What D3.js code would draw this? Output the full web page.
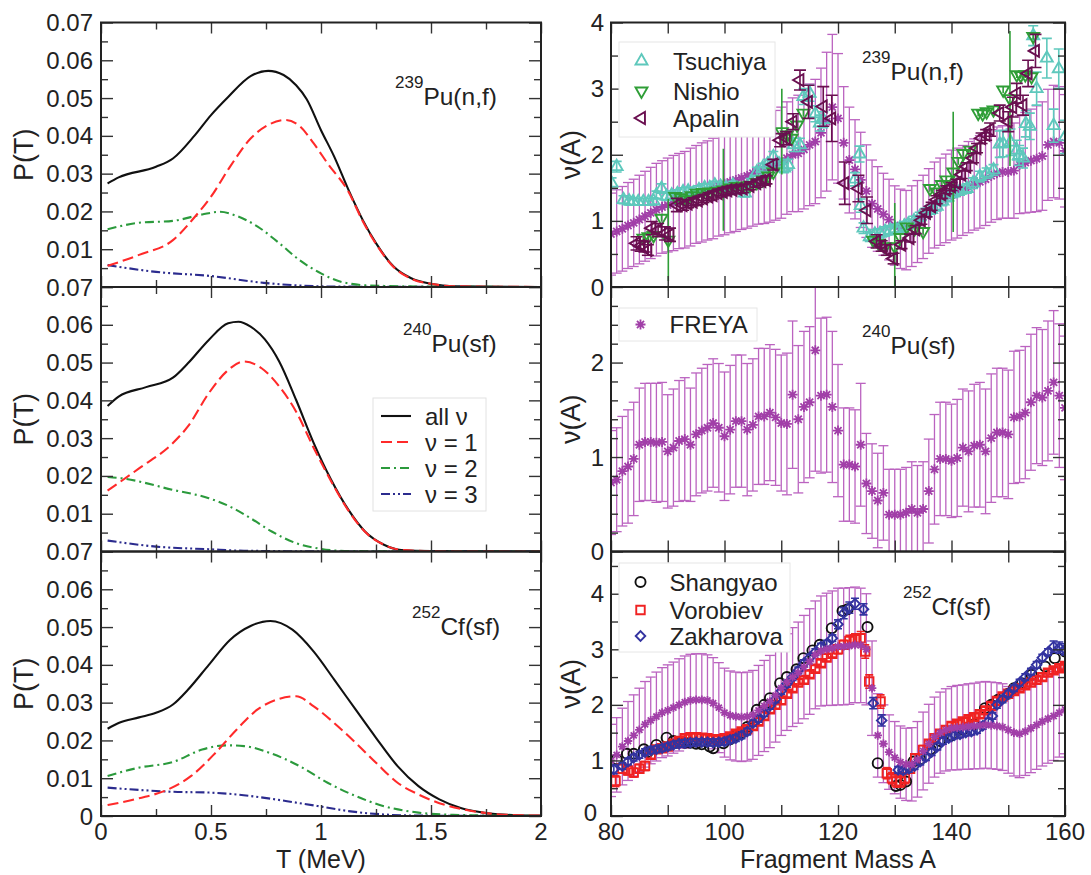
<!DOCTYPE html>
<html>
<head>
<meta charset="utf-8">
<style>
  body { margin: 0; background: #fff; }
  svg text { font-family: "Liberation Sans", Arial, Helvetica, sans-serif; fill: #222; }
</style>
</head>
<body>
<svg id="chart" width="1091" height="875"></svg>

<script src="https://cdn.jsdelivr.net/npm/d3@7"></script>
<script>
// ---- left column: P(T) curves, [T (MeV), P]
const pu239All = [[0.03,0.0274],[0.08,0.029],[0.25,0.0318],[0.327,0.034],[0.427,0.0402],[0.5,0.0455],[0.578,0.0503],[0.68,0.0558],[0.76,0.0572],[0.83,0.0561],[0.887,0.0534],[0.935,0.0497],[1.0,0.0415],[1.06,0.0345],[1.125,0.0257],[1.19,0.0177],[1.25,0.0116],[1.33,0.0054],[1.41,0.0023],[1.505,0.0008],[1.6,0.0002],[2.0,0]];
const pu239Nu1 = [[0.03,0.0056],[0.173,0.0085],[0.327,0.0124],[0.427,0.0186],[0.5,0.0239],[0.586,0.0318],[0.68,0.0393],[0.76,0.0429],[0.84,0.0442],[0.903,0.0426],[0.967,0.038],[1.03,0.0327],[1.125,0.0252],[1.19,0.0174],[1.25,0.0114],[1.33,0.0053],[1.41,0.0022],[1.505,0.0008],[1.6,0.0002],[2.0,0]];
const pu239Nu2 = [[0.03,0.0153],[0.173,0.017],[0.327,0.0175],[0.46,0.0192],[0.54,0.0199],[0.617,0.0188],[0.712,0.016],[0.81,0.0116],[0.903,0.0071],[1.0,0.0036],[1.09,0.0014],[1.22,0.0004],[1.5,0.0001],[2.0,0]];
const pu239Nu3 = [[0.03,0.0058],[0.25,0.004],[0.5,0.0029],[0.74,0.0011],[0.9,0.0004],[1.1,0.0001],[2.0,0]];

const pu240All = [[0.03,0.0385],[0.08,0.041],[0.205,0.0435],[0.327,0.046],[0.395,0.0498],[0.49,0.056],[0.578,0.0604],[0.625,0.0608],[0.68,0.0595],[0.744,0.0562],[0.81,0.0503],[0.887,0.0401],[0.967,0.0287],[1.046,0.019],[1.125,0.011],[1.2,0.0053],[1.286,0.0018],[1.365,0.0004],[1.5,0.0001],[2.0,0]];
const pu240Nu1 = [[0.03,0.0161],[0.173,0.022],[0.327,0.0287],[0.395,0.0331],[0.49,0.0419],[0.57,0.0476],[0.65,0.0503],[0.73,0.0485],[0.81,0.0437],[0.887,0.037],[0.967,0.0274],[1.046,0.0186],[1.125,0.0108],[1.2,0.0052],[1.286,0.0018],[1.365,0.0004],[1.5,0.0001],[2.0,0]];
const pu240Nu2 = [[0.03,0.0197],[0.09,0.0194],[0.327,0.0163],[0.49,0.0141],[0.586,0.0119],[0.68,0.0088],[0.776,0.0053],[0.887,0.0022],[1.0,0.0007],[1.125,0.0001],[2.0,0]];
const pu240Nu3 = [[0.03,0.0029],[0.25,0.0013],[0.49,0.0006],[0.65,0.0002],[1.2,0],[2.0,0]];

const cf252All = [[0.03,0.0231],[0.08,0.0246],[0.173,0.0261],[0.25,0.0273],[0.327,0.0295],[0.395,0.0334],[0.49,0.04],[0.586,0.0466],[0.68,0.0503],[0.77,0.0516],[0.87,0.0493],[0.967,0.0435],[1.06,0.0361],[1.157,0.0282],[1.25,0.0207],[1.348,0.0132],[1.443,0.0079],[1.538,0.0044],[1.635,0.0021],[1.76,0.0007],[1.89,0.0002],[2.0,0.0001]];
const cf252Nu1 = [[0.03,0.0029],[0.173,0.0047],[0.3,0.0069],[0.41,0.0106],[0.52,0.0167],[0.617,0.0229],[0.712,0.0282],[0.81,0.031],[0.887,0.0317],[0.967,0.029],[1.06,0.0246],[1.157,0.0194],[1.25,0.0141],[1.348,0.0088],[1.443,0.0057],[1.538,0.0034],[1.635,0.0019],[1.76,0.0007],[1.89,0.0002],[2.0,0.0001]];
const cf252Nu2 = [[0.03,0.0106],[0.173,0.0128],[0.327,0.0143],[0.46,0.0176],[0.57,0.0187],[0.65,0.0185],[0.776,0.0165],[0.903,0.0132],[1.03,0.0088],[1.157,0.0053],[1.286,0.0026],[1.443,0.0009],[1.6,0.0003],[2.0,0]];
const cf252Nu3 = [[0.03,0.0075],[0.173,0.0069],[0.33,0.0064],[0.49,0.0062],[0.617,0.0057],[0.744,0.0048],[0.87,0.0037],[1.0,0.0025],[1.125,0.0013],[1.286,0.0004],[1.45,0.0001],[2.0,0]];

const curveNames = ['all \u03bd', '\u03bd = 1', '\u03bd = 2', '\u03bd = 3'];
const pLabelsTop = ['0.07','0.01','0.02','0.03','0.04','0.05','0.06','0.07'];
const pLabelsMid = ['0.07','0.01','0.02','0.03','0.04','0.05','0.06'];
const pLabelsBot = ['0','0.01','0.02','0.03','0.04','0.05','0.06'];
const tLabels = ['0','0.5','1','1.5','2'];

// ---- right column: FREYA nu(A), one value per mass number
const massA = d3.range(80, 161);
const freyaPu239 = [0.80,0.84,0.88,0.93,0.97,1.02,1.07,1.12,1.17,1.21, 1.24,1.27,1.30,1.32,1.36,1.40,1.43,1.46,1.49,1.53,
  1.56,1.59,1.62,1.65,1.68,1.72,1.75,1.77,1.80,1.84, 1.88,1.95,2.00,2.02,2.08,2.15,2.20,2.33,2.50,2.72,
  2.55,2.18,1.92,1.78,1.62,1.45,1.26,1.18,1.10,1.02, 0.93,0.88,0.86,0.92,0.99,1.06,1.15,1.24,1.29,1.34,
  1.39,1.42,1.46,1.51,1.55,1.59,1.63,1.68,1.72,1.74, 1.74,1.76,1.85,1.88,1.91,1.94,1.98,2.15,2.20,2.18,2.06];
const freyaPu239Err = [0.62,0.63,0.64,0.65,0.66,0.67,0.68,0.69,0.70,0.70, 0.71,0.72,0.72,0.73,0.74,0.74,0.75,0.75,0.76,0.76,
  0.77,0.77,0.78,0.78,0.79,0.80,0.80,0.81,0.82,0.83, 0.84,0.85,0.86,0.88,0.90,0.92,0.94,0.98,1.05,1.10,
  0.98,0.85,0.80,0.75,0.72,0.70,0.66,0.64,0.62,0.61, 0.60,0.60,0.60,0.61,0.62,0.63,0.64,0.65,0.66,0.67,
  0.68,0.68,0.68,0.69,0.69,0.70,0.70,0.70,0.70,0.70, 0.70,0.72,0.74,0.76,0.78,0.80,0.82,0.84,0.85,0.85,0.85];

const freyaPu240 = [0.73,0.76,0.85,0.90,0.98,1.13,1.16,1.16,1.15,1.16, 1.06,1.10,1.17,1.19,1.13,1.24,1.28,1.31,1.36,1.31,
  1.22,1.29,1.38,1.38,1.29,1.34,1.43,1.43,1.47,1.42, 1.36,1.35,1.66,1.40,1.53,1.58,2.13,1.65,1.66,1.53,
  1.28,0.92,0.92,0.90,1.13,0.72,0.64,0.54,0.62,0.39, 0.39,0.39,0.41,0.45,0.41,0.45,0.64,0.87,0.98,0.98,
  0.96,0.99,1.10,1.06,1.12,1.13,1.06,1.20,1.26,1.26, 1.24,1.42,1.43,1.47,1.58,1.65,1.63,1.70,1.79,1.65,1.52];
const freyaPu240Err = [0.55,0.55,0.58,0.60,0.60,0.60,0.62,0.62,0.63,0.63, 0.60,0.62,0.64,0.65,0.60,0.65,0.66,0.67,0.68,0.68,
  0.68,0.68,0.70,0.70,0.70,0.70,0.72,0.72,0.72,0.72, 0.72,0.75,0.78,0.78,0.80,0.80,1.28,0.82,0.82,0.80,
  0.70,0.60,0.60,0.60,0.65,0.53,0.50,0.50,0.50,0.48, 0.48,0.48,0.48,0.50,0.50,0.50,0.55,0.58,0.60,0.60,
  0.60,0.62,0.62,0.64,0.65,0.66,0.66,0.68,0.68,0.68, 0.68,0.70,0.70,0.70,0.72,0.72,0.72,0.74,0.76,0.76,0.76];

const freyaCf252 = [1.00,1.10,1.25,1.35,1.45,1.55,1.65,1.72,1.79,1.86, 1.90,1.95,2.00,2.05,2.08,2.09,2.09,2.08,2.03,1.95,
  1.86,1.81,1.79,1.78,1.79,1.82,1.90,1.98,2.06,2.17, 2.30,2.41,2.50,2.58,2.68,2.78,2.90,2.97,3.00,3.02,
  3.05,3.05,3.06,3.08,3.07,3.00,2.30,1.45,1.30,1.15, 1.05,0.97,0.93,0.93,1.02,1.17,1.30,1.42,1.50,1.55,
  1.58,1.59,1.60,1.61,1.62,1.63,1.64,1.63,1.62,1.60, 1.55,1.50,1.48,1.52,1.58,1.64,1.70,1.75,1.80,1.86,1.92];
const freyaCf252Err = [0.65,0.67,0.69,0.71,0.73,0.75,0.77,0.78,0.80,0.81, 0.82,0.82,0.83,0.83,0.83,0.83,0.83,0.82,0.82,0.81,
  0.80,0.80,0.80,0.80,0.80,0.80,0.81,0.82,0.83,0.84, 0.85,0.87,0.89,0.91,0.93,0.95,0.97,0.99,1.01,1.03,
  1.05,1.05,1.05,1.04,1.03,1.00,0.85,0.75,0.70,0.67, 0.65,0.65,0.65,0.66,0.68,0.70,0.71,0.72,0.73,0.74,
  0.75,0.76,0.76,0.77,0.77,0.78,0.78,0.78,0.78,0.78, 0.78,0.78,0.79,0.79,0.80,0.80,0.80,0.80,0.80,0.80,0.80];

// ---- experimental data, [A, nu, error]
const tsuchiya = [[80.1,1.57,0.08],[81,1.82,0.08],[82.2,1.32,0.06],[83.2,1.30,0.06],[83.9,1.29,0.05],[84.8,1.29,0.05],[85.7,1.29,0.05],[86.6,1.29,0.05],[87.5,1.30,0.05],[88,1.39,0.06],[88.9,1.49,0.07],[89.8,1.37,0.06],[90.7,1.39,0.06],[91.7,1.41,0.06],[92.7,1.44,0.06],[93.6,1.45,0.06],[94.5,1.42,0.06],[95.5,1.47,0.06],[96.5,1.50,0.06],[97.4,1.50,0.06],[98.3,1.54,0.06],[99.3,1.52,0.06],[100.3,1.50,0.06],[101.5,1.54,0.06],[102.5,1.47,0.06],[103.6,1.42,0.06],[104.6,1.58,0.06],[105.7,1.74,0.07],[106.7,1.80,0.07],[107.6,1.86,0.07],[108.6,1.97,0.08],[109.6,1.86,0.07],[110.5,1.80,0.07],[111.2,1.85,0.08],[112.2,2.15,0.1],[113.3,2.15,0.1],[113.9,2.88,0.12],[115,2.93,0.12],[116,2.62,0.12],[116.8,2.48,0.12],[117.4,2.53,0.12],[123,1.63,0.1],[123.8,2.01,0.12],[124,1.23,0.1],[124.5,0.89,0.08],[125.6,0.76,0.07],[126.5,0.80,0.07],[127.4,0.81,0.07],[128.3,0.84,0.07],[129.2,0.86,0.07],[130.1,0.88,0.07],[130.9,0.89,0.07],[131.7,0.92,0.07],[132.4,0.95,0.07],[133.4,1.00,0.07],[134.4,1.06,0.07],[135.4,1.12,0.07],[136.4,1.17,0.07],[137.4,1.22,0.07],[138.4,1.30,0.07],[139.3,1.36,0.07],[140.3,1.42,0.07],[141.5,1.46,0.07],[142.7,1.49,0.07],[143.8,1.57,0.08],[145,1.67,0.08],[146.2,1.72,0.08],[147.4,1.77,0.08],[148.5,2.16,0.2],[149.1,2.17,0.2],[150.4,2.19,0.2],[151.5,2.07,0.15],[151.9,1.99,0.15],[152.6,1.95,0.15],[153.1,2.47,0.2],[153.8,2.43,0.2],[154.4,3.80,0.15],[155,3.00,0.25],[156.8,3.46,0.3],[158,2.44,0.25],[158.9,3.30,0.3],[160,2.27,0.25]];
const nishio = [[85.7,0.74,0.05],[86.6,0.76,0.05],[87.5,0.78,0.05],[88.9,1.04,0.05],[90.1,0.71,0.62],[91.3,1.37,0.05],[92.3,1.35,0.05],[93.3,1.32,0.05],[94.2,1.38,0.05],[95.1,1.42,0.05],[96.2,1.43,0.05],[97.4,1.44,0.05],[98.6,1.45,0.05],[99.8,1.47,0.62],[101,1.50,0.05],[102.1,1.52,0.05],[103.3,1.53,0.05],[104.5,1.54,0.05],[105.7,1.58,0.05],[106.8,1.62,0.05],[107.7,1.68,0.05],[108.6,1.74,0.05],[110.1,2.35,0.65],[111,2.30,0.05],[111.8,2.25,0.05],[112.8,2.45,0.05],[113.9,2.63,0.05],[126.2,0.71,0.05],[127.2,0.66,0.05],[128.3,0.61,0.05],[130,0.61,0.66],[131,0.75,0.05],[132.1,0.91,0.05],[133.5,0.88,0.05],[135,0.84,0.05],[136.2,1.49,0.05],[137.4,1.44,0.05],[138.3,1.55,0.05],[139.1,1.62,0.05],[140.3,1.74,0.91],[141.2,1.90,0.05],[142.1,2.02,0.05],[143.3,2.07,0.05],[144.7,2.63,0.05],[145.5,2.62,0.05],[146.2,2.65,0.05],[147.4,2.68,0.05],[149.1,2.98,0.05],[150.3,2.85,1.02],[151.5,3.21,0.05],[152.2,3.20,0.05],[153,3.21,0.05],[154.1,3.18,0.05],[154.4,3.79,0.05]];
const apalin = [[84.5,0.66,0.1],[85.2,0.62,0.08],[85.9,0.61,0.08],[86.5,0.56,0.08],[87.2,0.89,0.1],[88.3,0.86,0.1],[89.5,0.81,0.1],[90.4,0.79,0.1],[91.6,1.24,0.1],[92.7,1.24,0.08],[93.6,1.26,0.06],[94.5,1.29,0.06],[95.4,1.31,0.06],[96.3,1.34,0.06],[97.2,1.37,0.06],[98,1.39,0.06],[98.9,1.42,0.06],[99.8,1.44,0.06],[100.6,1.46,0.06],[101.5,1.47,0.06],[102.4,1.48,0.06],[103.3,1.49,0.06],[104.5,1.53,0.06],[105.7,1.57,0.06],[106.6,1.60,0.06],[107.4,1.62,0.06],[108.6,1.85,0.08],[109.8,2.22,0.1],[110.9,2.25,0.1],[112.1,2.50,0.12],[113.3,3.13,0.15],[114.8,2.80,0.25],[117.4,2.73,0.3],[118.9,2.55,0.35],[121.2,1.57,0.32],[123.6,1.49,0.2],[125.1,1.16,0.2],[126.8,0.69,0.1],[127.7,0.62,0.08],[128.6,0.56,0.08],[129.8,0.43,0.08],[131.2,0.64,0.06],[132.7,0.74,0.06],[133.7,0.87,0.06],[134.7,1.01,0.06],[135.6,1.12,0.06],[136.5,1.22,0.06],[137.4,1.32,0.06],[138.3,1.40,0.06],[139.1,1.47,0.06],[140,1.52,0.06],[140.9,1.57,0.06],[141.8,1.70,0.06],[142.7,1.82,0.06],[143.8,1.95,0.07],[144.5,2.10,0.07],[145.3,2.25,0.08],[146.1,2.30,0.08],[146.8,2.38,0.1],[148.5,2.63,0.12],[150,2.50,0.15],[150.8,2.72,0.15],[151.5,2.93,0.15],[152.6,2.75,0.15],[153.5,3.23,0.2],[154.8,3.57,0.25]];

const shangyao = [[81,1.02,0],[82.8,1.12,0],[84,1.12,0],[85.8,1.20,0],[86.5,1.15,0],[88,1.28,0],[89.8,1.41,0],[91,1.35,0],[92,1.33,0],[93,1.32,0],[94,1.32,0],[95,1.30,0],[96,1.29,0],[97.4,1.25,0],[98,1.22,0],[99.8,1.31,0],[101,1.38,0],[102,1.45,0],[103,1.50,0],[104,1.60,0],[105.7,1.91,0],[107,2.00,0],[108,2.12,0],[109.8,2.39,0],[111,2.50,0],[112.7,2.64,0],[113.9,2.84,0],[115.5,2.98,0],[116.8,3.08,0],[118.9,3.38,0],[120.8,3.69,0],[121.7,3.72,0],[125.2,3.40,0],[127,0.95,0],[130.2,0.54,0],[131,0.56,0],[132,0.62,0],[133.3,0.98,0],[134.5,1.02,0],[136.3,1.20,0],[138,1.35,0],[140,1.45,0],[142,1.55,0],[144,1.65,0],[145.9,1.94,0],[147,2.00,0],[148.2,2.09,0],[150,2.20,0],[151,2.30,0],[152.4,2.39,0],[154.1,2.54,0],[156.5,2.69,0],[158.2,2.84,0],[160,2.96,0]];
const vorobiev = [[80.8,0.63,0.1],[82,0.85,0.08],[83,0.82,0.08],[84,0.78,0.08],[85,0.85,0.08],[86,0.90,0.08],[87,1.10,0.06],[88,1.20,0.06],[89,1.22,0.06],[90,1.25,0.06],[91,1.30,0.06],[92,1.35,0.06],[93,1.40,0.06],[94,1.42,0.06],[95,1.42,0.06],[96,1.41,0.06],[97,1.40,0.06],[98,1.38,0.06],[99,1.38,0.06],[100,1.40,0.06],[101,1.43,0.06],[102,1.48,0.06],[103,1.52,0.06],[104,1.56,0.06],[105,1.62,0.06],[106,1.70,0.06],[107,1.80,0.06],[108,1.92,0.06],[109,2.00,0.06],[110,2.08,0.06],[111,2.20,0.06],[112,2.30,0.06],[113,2.40,0.06],[114,2.45,0.06],[115,2.55,0.06],[116,2.65,0.06],[117,2.75,0.06],[118,2.85,0.06],[119,2.92,0.06],[120,3.00,0.08],[121,3.08,0.08],[122,3.15,0.1],[123,3.18,0.1],[124,3.20,0.12],[124.8,2.96,0.12],[125.5,2.42,0.12],[127.5,2.06,0.12],[128.6,0.77,0.1],[129.5,0.68,0.1],[130.3,0.62,0.1],[131,0.62,0.1],[131.8,0.68,0.1],[132.7,0.85,0.08],[133.6,1.04,0.08],[135,1.19,0.08],[136,1.30,0.06],[137,1.40,0.06],[138,1.48,0.06],[139,1.55,0.06],[140,1.62,0.06],[141,1.66,0.06],[142,1.70,0.06],[143,1.74,0.06],[144,1.78,0.06],[145,1.83,0.06],[146,1.90,0.06],[147,1.98,0.06],[148,2.07,0.06],[149,2.15,0.06],[150,2.20,0.06],[151,2.25,0.06],[152,2.30,0.06],[153,2.35,0.06],[154,2.40,0.06],[155,2.45,0.06],[156,2.50,0.06],[157,2.58,0.06],[158,2.62,0.06],[159,2.66,0.06],[160,2.70,0.06]];
const zakharova = [[80.5,0.84,0.08],[82,0.90,0.06],[83,0.98,0.06],[84,1.05,0.06],[85,1.10,0.06],[86,1.15,0.06],[87,1.18,0.06],[88,1.20,0.06],[89,1.22,0.06],[90,1.25,0.06],[91,1.28,0.06],[92,1.30,0.06],[93,1.31,0.06],[94,1.32,0.06],[95,1.33,0.06],[96,1.33,0.06],[97,1.33,0.06],[98,1.32,0.06],[99,1.33,0.06],[100,1.34,0.06],[101,1.37,0.06],[102,1.40,0.06],[103,1.45,0.06],[104,1.52,0.06],[105,1.67,0.06],[106,1.75,0.06],[107,1.85,0.06],[108,1.98,0.06],[109,2.10,0.06],[110,2.25,0.06],[111,2.38,0.06],[112,2.50,0.06],[113,2.62,0.06],[114,2.75,0.06],[115,2.85,0.06],[116,2.95,0.06],[117,3.05,0.06],[118,3.10,0.06],[119,3.20,0.06],[120,3.45,0.08],[121,3.65,0.1],[122,3.75,0.1],[123,3.82,0.1],[124.5,3.72,0.1],[126.2,2.03,0.1],[127.7,1.72,0.1],[130.6,0.83,0.06],[131.5,0.82,0.06],[132.5,0.85,0.06],[133.5,0.90,0.06],[134.5,0.98,0.06],[135.5,1.06,0.06],[136.5,1.15,0.06],[137.5,1.25,0.06],[138.5,1.35,0.06],[139.5,1.40,0.06],[140.5,1.45,0.06],[141.5,1.47,0.06],[142.5,1.50,0.06],[143.5,1.52,0.06],[144.5,1.55,0.06],[145.5,1.62,0.06],[146.5,1.70,0.06],[147.2,1.80,0.06],[148,2.00,0.06],[149,2.10,0.06],[150,2.20,0.06],[151,2.30,0.06],[152,2.40,0.06],[153,2.50,0.06],[154,2.60,0.06],[155,2.72,0.06],[156,2.85,0.06],[157,2.95,0.06],[158,3.05,0.1],[159,3.03,0.1],[160,3.00,0.1]];
const aLabels = ['80','100','120','140','160'];

// ---- layout
const svg = d3.select('#chart');
const rowTop = [22.5, 287, 551.5], rowH = 264.5;
const xT = d3.scaleLinear().domain([0, 2]).range([101, 541]);
const xA = d3.scaleLinear().domain([80, 160]).range([611, 1065]);
const defs = svg.append('defs');

function ticks(g, xs, ys, xMaj, xMin, yMaj, yMin) {
  const [x0, x1] = xs.range(), [yb, yt] = ys.range();
  const put = (axis, tx, ty) => g.append('g').attr('transform', `translate(${tx},${ty})`)
    .call(axis.tickSizeOuter(0).tickFormat(''))
    .call(a => a.select('.domain').remove())
    .call(a => a.selectAll('line').attr('stroke', '#333').attr('stroke-width', 1.4));
  put(d3.axisBottom(xs).tickValues(xMin).tickSizeInner(-7), 0, yb);
  put(d3.axisTop(xs).tickValues(xMin).tickSizeInner(-7), 0, yt);
  put(d3.axisBottom(xs).tickValues(xMaj).tickSizeInner(-11), 0, yb);
  put(d3.axisTop(xs).tickValues(xMaj).tickSizeInner(-11), 0, yt);
  put(d3.axisLeft(ys).tickValues(yMin).tickSizeInner(-7), x0, 0);
  put(d3.axisRight(ys).tickValues(yMin).tickSizeInner(-7), x1, 0);
  put(d3.axisLeft(ys).tickValues(yMaj).tickSizeInner(-12), x0, 0);
  put(d3.axisRight(ys).tickValues(yMaj).tickSizeInner(-12), x1, 0);
  g.append('rect').attr('x', x0).attr('y', yt).attr('width', x1 - x0).attr('height', yb - yt)
    .attr('fill', 'none').attr('stroke', '#222').attr('stroke-width', 2);
}

function clip(id, xs, ys) {
  const [x0, x1] = xs.range(), [yb, yt] = ys.range();
  defs.append('clipPath').attr('id', id).append('rect')
    .attr('x', x0).attr('y', yt).attr('width', x1 - x0).attr('height', yb - yt);
  return `url(#${id})`;
}

function yLabels(ys, vals, labels, xRight) {
  svg.append('g').selectAll('text').data(vals).join('text')
    .attr('x', xRight).attr('y', d => ys(d) + 8.5).attr('text-anchor', 'end')
    .attr('font-size', 24).text((d, i) => labels[i]);
}

function nuclide(x, y, mass, rest) {
  const t = svg.append('text').attr('x', x).attr('y', y).attr('font-size', 24.5);
  t.append('tspan').attr('font-size', 17).attr('dy', -17).text(mass);
  t.append('tspan').attr('dy', 17).text(rest);
}

function vTitle(x, cy, txt) {
  svg.append('text').attr('transform', `translate(${x},${cy}) rotate(-90)`)
    .attr('text-anchor', 'middle').attr('font-size', 27).text(txt);
}

// ---- left column
const styles = [
  { color: '#111', dash: null },
  { color: '#ff2a2a', dash: '11,5' },
  { color: '#2b9a3c', dash: '9,4,2,4' },
  { color: '#2b2b8e', dash: '9,3,2,3,2,3' }
];
const leftSets = [
  [pu239All, pu239Nu1, pu239Nu2, pu239Nu3],
  [pu240All, pu240Nu1, pu240Nu2, pu240Nu3],
  [cf252All, cf252Nu1, cf252Nu2, cf252Nu3]
];
const pLabelSets = [pLabelsTop, pLabelsMid, pLabelsBot];
const pMajor = d3.range(0, 0.0701, 0.01);
const pMinor = d3.range(0.005, 0.07, 0.01);

leftSets.forEach((set, r) => {
  const ys = d3.scaleLinear().domain([0, 0.07]).range([rowTop[r] + rowH, rowTop[r]]);
  const g = svg.append('g');
  const line = d3.line().x(d => xT(d[0])).y(d => ys(d[1])).curve(d3.curveMonotoneX);
  const cg = g.append('g').attr('clip-path', clip('lc' + r, xT, ys));
  [0, 3, 2, 1].forEach(k => {
    cg.append('path').datum(set[k]).attr('d', line).attr('fill', 'none')
      .attr('stroke', styles[k].color).attr('stroke-width', 2.1)
      .attr('stroke-dasharray', styles[k].dash);
  });
  ticks(g, xT, ys, [0, 0.5, 1, 1.5, 2], [0.25, 0.75, 1.25, 1.75], pMajor, pMinor);
  const lab = pLabelSets[r];
  yLabels(ys, pMajor.slice(0, lab.length), lab, 93);
  vTitle(33, rowTop[r] + rowH / 2, 'P(T)');
});

nuclide(395, 105, '239', 'Pu(n,f)');
nuclide(403, 352, '240', 'Pu(sf)');
nuclide(412, 635, '252', 'Cf(sf)');

// left legend
const lg = svg.append('g');
lg.append('rect').attr('x', 373).attr('y', 398).attr('width', 113).attr('height', 113)
  .attr('fill', '#fff').attr('stroke', '#e2e2e2').attr('stroke-width', 1);
curveNames.forEach((name, k) => {
  const y = 416 + k * 26;
  lg.append('line').attr('x1', 381).attr('x2', 411).attr('y1', y).attr('y2', y)
    .attr('stroke', styles[k].color).attr('stroke-width', 2.1).attr('stroke-dasharray', styles[k].dash);
  lg.append('text').attr('x', 425).attr('y', y + 8.5).attr('font-size', 24).text(name);
});

svg.selectAll('.tlab').data([0, 0.5, 1, 1.5, 2]).join('text').attr('class', 'tlab')
  .attr('x', d => xT(d)).attr('y', 840).attr('text-anchor', 'middle').attr('font-size', 24)
  .text((d, i) => tLabels[i]);
svg.append('text').attr('x', 321).attr('y', 868).attr('text-anchor', 'middle').attr('font-size', 25).text('T (MeV)');

// ---- right column
const freyaColor = '#a13fa8', freyaBar = '#b453ba';
const starPath = r => {
  const a = r * 0.7071;
  return `M${-r},0L${r},0M0,${-r}L0,${r}M${-a},${-a}L${a},${a}M${-a},${a}L${a},${-a}`;
};
const triUp = d3.symbol().type(d3.symbolTriangle).size(62)();
const circ = d3.symbol().type(d3.symbolCircle).size(80)();
const sq = d3.symbol().type(d3.symbolSquare).size(72)();
const dia = d3.symbol().type(d3.symbolSquare).size(46)();

const series = {
  tsuchiya: { name: 'Tsuchiya', color: '#5ec8bc', path: triUp, rot: 0, cap: 5 },
  nishio: { name: 'Nishio', color: '#2f9e37', path: triUp, rot: 180, cap: 0 },
  apalin: { name: 'Apalin', color: '#6a0f50', path: triUp, rot: -90, cap: 6 },
  shangyao: { name: 'Shangyao', color: '#111', path: circ, rot: 0, cap: 0 },
  vorobiev: { name: 'Vorobiev', color: '#f02222', path: sq, rot: 0, cap: 4 },
  zakharova: { name: 'Zakharova', color: '#3333a0', path: dia, rot: 45, cap: 4 }
};

function drawFreya(g, ys, vals, errs, r) {
  const bars = g.append('g').attr('stroke', freyaBar).attr('stroke-width', 1.3).attr('opacity', 0.9);
  massA.forEach((a, i) => {
    const x = xA(a), lo = ys(vals[i] - errs[i]), hi = ys(vals[i] + errs[i]);
    bars.append('line').attr('x1', x).attr('x2', x).attr('y1', lo).attr('y2', hi);
    bars.append('line').attr('x1', x - 5).attr('x2', x + 5).attr('y1', lo).attr('y2', lo);
    bars.append('line').attr('x1', x - 5).attr('x2', x + 5).attr('y1', hi).attr('y2', hi);
  });
  return () => g.append('g').selectAll('path').data(massA).join('path')
    .attr('transform', (a, i) => `translate(${xA(a)},${ys(vals[i])})`)
    .attr('d', starPath(r)).attr('stroke', freyaColor).attr('stroke-width', 1.8).attr('fill', 'none');
}

function drawExp(g, ys, data, s) {
  const eg = g.append('g').attr('stroke', s.color).attr('stroke-width', 1.6);
  data.forEach(d => {
    if (!d[2]) return;
    const x = xA(d[0]), lo = ys(d[1] - d[2]), hi = ys(d[1] + d[2]);
    eg.append('line').attr('x1', x).attr('x2', x).attr('y1', lo).attr('y2', hi);
    if (s.cap) {
      eg.append('line').attr('x1', x - s.cap).attr('x2', x + s.cap).attr('y1', lo).attr('y2', lo);
      eg.append('line').attr('x1', x - s.cap).attr('x2', x + s.cap).attr('y1', hi).attr('y2', hi);
    }
  });
  g.append('g').selectAll('path').data(data).join('path')
    .attr('transform', d => `translate(${xA(d[0])},${ys(d[1])}) rotate(${s.rot})`)
    .attr('d', s.path).attr('fill', 'none').attr('stroke', s.color).attr('stroke-width', 1.9);
}

function legendBox(x, y, w, h) {
  svg.append('rect').attr('x', x).attr('y', y).attr('width', w).attr('height', h)
    .attr('fill', '#fff').attr('stroke', '#e6e6e6').attr('stroke-width', 1);
}
function legendItem(s, x, y, tx) {
  svg.append('path').attr('transform', `translate(${x},${y}) rotate(${s.rot})`).attr('d', s.path)
    .attr('fill', 'none').attr('stroke', s.color).attr('stroke-width', 1.9);
  svg.append('text').attr('x', tx).attr('y', y + 8.5).attr('font-size', 24).text(s.name);
}

const aMajor = d3.range(80, 161, 10);
const rightDomains = [4, 2.8, 4.76];

// top: 239Pu(n,f)
{
  const ys = d3.scaleLinear().domain([0, rightDomains[0]]).range([rowTop[0] + rowH, rowTop[0]]);
  const g = svg.append('g').attr('clip-path', clip('rc0', xA, ys));
  const stars = drawFreya(g, ys, freyaPu239, freyaPu239Err, 5);
  stars();
  drawExp(g, ys, tsuchiya, series.tsuchiya);
  drawExp(g, ys, nishio, series.nishio);
  drawExp(g, ys, apalin, series.apalin);
  ticks(svg.append('g'), xA, ys, aMajor, [], [0, 1, 2, 3, 4], [0.5, 1.5, 2.5, 3.5]);
  yLabels(ys, [0, 1, 2, 3, 4], ['0', '1', '2', '3', '4'], 604);
  vTitle(580, rowTop[0] + rowH / 2, '\u03bd(A)');
  legendBox(619, 42, 156, 95);
  legendItem(series.tsuchiya, 641.5, 61, 673);
  legendItem(series.nishio, 641.5, 91, 673);
  legendItem(series.apalin, 641.5, 118, 673);
  nuclide(862, 80, '239', 'Pu(n,f)');
}

// middle: 240Pu(sf)
{
  const ys = d3.scaleLinear().domain([0, rightDomains[1]]).range([rowTop[1] + rowH, rowTop[1]]);
  const g = svg.append('g').attr('clip-path', clip('rc1', xA, ys));
  drawFreya(g, ys, freyaPu240, freyaPu240Err, 5)();
  ticks(svg.append('g'), xA, ys, aMajor, [], [0, 1, 2], [0.2, 0.4, 0.6, 0.8, 1.2, 1.4, 1.6, 1.8, 2.2, 2.4, 2.6]);
  yLabels(ys, [0, 1, 2], ['0', '1', '2'], 604);
  vTitle(580, rowTop[1] + rowH / 2, '\u03bd(A)');
  legendBox(619, 308, 138, 33);
  svg.append('path').attr('transform', 'translate(640.5,324.5)').attr('d', starPath(5))
    .attr('stroke', freyaColor).attr('stroke-width', 1.8);
  svg.append('text').attr('x', 669.5).attr('y', 333).attr('font-size', 24).text('FREYA');
  nuclide(862, 354, '240', 'Pu(sf)');
}

// bottom: 252Cf(sf)
{
  const ys = d3.scaleLinear().domain([0, rightDomains[2]]).range([rowTop[2] + rowH, rowTop[2]]);
  const g = svg.append('g').attr('clip-path', clip('rc2', xA, ys));
  const stars = drawFreya(g, ys, freyaCf252, freyaCf252Err, 4.3);
  drawExp(g, ys, shangyao, series.shangyao);
  drawExp(g, ys, vorobiev, series.vorobiev);
  drawExp(g, ys, zakharova, series.zakharova);
  stars();
  ticks(svg.append('g'), xA, ys, aMajor, [], [0, 1, 2, 3, 4], [0.5, 1.5, 2.5, 3.5, 4.5]);
  yLabels(ys, [1, 2, 3, 4], ['1', '2', '3', '4'], 604);
  svg.append('text').attr('x', 597).attr('y', ys(0) + 5).attr('text-anchor', 'end')
    .attr('font-size', 24).text('0');
  vTitle(580, rowTop[2] + rowH / 2, '\u03bd(A)');
  legendBox(619, 563, 171, 89);
  legendItem(series.shangyao, 640.5, 582, 669.5);
  legendItem(series.vorobiev, 640.5, 610, 669.5);
  legendItem(series.zakharova, 640.5, 636, 669.5);
  nuclide(903, 615, '252', 'Cf(sf)');
}

svg.selectAll('.alab').data([80, 100, 120, 140, 160]).join('text').attr('class', 'alab')
  .attr('x', d => xA(d)).attr('y', 840).attr('text-anchor', 'middle').attr('font-size', 24)
  .text((d, i) => aLabels[i]);
svg.append('text').attr('x', 838).attr('y', 868).attr('text-anchor', 'middle').attr('font-size', 25).text('Fragment Mass A');
</script>
</body>
</html>
